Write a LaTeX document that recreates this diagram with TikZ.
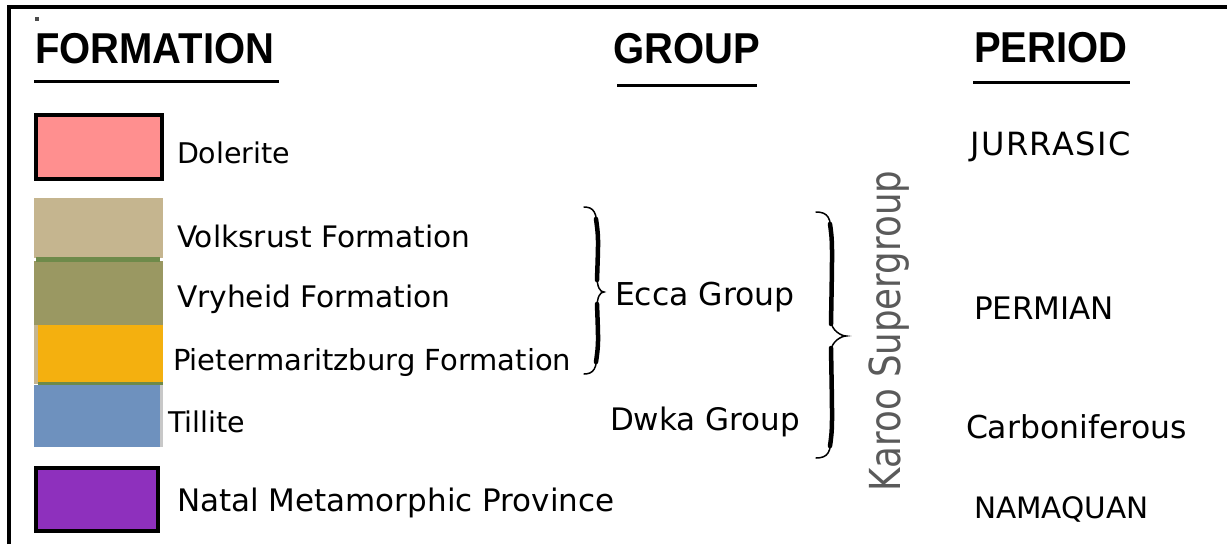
\documentclass[tikz,border=0pt]{standalone}
\usepackage{fontspec}
\usepackage{graphicx}
\setmainfont{DejaVu Sans}
\newfontfamily\headfont{Liberation Sans}
\newfontfamily\spacedfont[LetterSpace=5]{DejaVu Sans}
\definecolor{cpink}{HTML}{FF8F8F}
\definecolor{ctan}{HTML}{C5B58F}
\definecolor{colive}{HTML}{9A9862}
\definecolor{corange}{HTML}{F4B00F}
\definecolor{cblue}{HTML}{6E91BE}
\definecolor{cpurple}{HTML}{8E30BD}
\definecolor{cgreen}{HTML}{6E8A4A}
\definecolor{cgrayedge}{HTML}{C8C8C8}
\definecolor{karoogray}{HTML}{5A5A5A}
\newcommand\mybrace[7]{%
  % #1 name, #2 end x, #3 arm x, #4 tip x, #5 top y, #6 mid y, #7 bottom y
  \draw[bracethin] (#2,#5) .. controls (#3-3,#5) and (#3,#5+6) .. (#3,#5+22)
     -- (#3,#6-16) .. controls (#3,#6-5) and (#4-4,#6) .. (#4,#6)
     .. controls (#4-4,#6) and (#3,#6+5) .. (#3,#6+16)
     -- (#3,#7-22) .. controls (#3,#7-6) and (#3-3,#7) .. (#2,#7);
  \draw[bracethick] (#3-1,#5+12) .. controls (#3+1.5,#5+30) .. (#3,#6-12);
  \draw[bracethick] (#3,#6+12) .. controls (#3+1.5,#7-30) .. (#3-1,#7-12);
  \coordinate (#1) at (#4,#6);
}
\begin{document}
\begin{tikzpicture}[x=1pt,y=-1pt,
  lbl/.style={anchor=base west, inner sep=0pt, outer sep=0pt},
  fs/.style={font=\fontsize{#1}{#1}\selectfont},
  hdr/.style={anchor=base west, inner sep=0pt, outer sep=0pt,
              font=\headfont\bfseries\fontsize{40}{40}\selectfont},
  uline/.style={line width=3pt},
  framebox/.style={draw=black, line width=4pt},
  bracethin/.style={line width=1.5pt, line cap=round},
  bracethick/.style={line width=4.5pt, line cap=round}]
\useasboundingbox (0,0) rectangle (1227,544);

% frame
\draw[line width=4pt] (8.5,544) -- (8.5,6.5) -- (1227,6.5);
\fill[black!70] (35,17) rectangle (39,21);

% headers
\node[hdr] (hform) at (35,63) {\scalebox{1}[1.08]{FORMATION}};
\node[hdr] (hgroup) at (613,63) {\scalebox{1}[1.08]{GROUP}};
\node[hdr] (hperiod) at (974,62) {\scalebox{1}[1.08]{PERIOD}};
\draw[uline] (34,81.5) -- (279,81.5);
\draw[uline] (617,85.5) -- (757,85.5);
\draw[uline] (973,82.5) -- (1130,82.5);

% legend boxes
\path[framebox, fill=cpink] (36,115) rectangle (162,179);
\fill[ctan] (34,198) rectangle (163,258);
\fill[colive] (34,261) rectangle (163,325);
\fill[cgreen] (36,257) rectangle (160,262);
\fill[ctan] (34,325) rectangle (38,384);
\fill[corange] (38,325) rectangle (163,384);
\fill[cgreen] (38,382) rectangle (163,386);
\fill[cgrayedge] (160,385) rectangle (163,447);
\fill[cblue] (34,385) rectangle (160,447);
\path[framebox, fill=cpurple] (36,468) rectangle (158,531);

% formation labels
\node[lbl,fs=28.5] (dol) at (177,163) {Dolerite};
\node[lbl,fs=29.6] (vol) at (177,247) {Volksrust Formation};
\node[lbl,fs=29.7] (vry) at (177,307) {Vryheid Formation};
\node[lbl,fs=29] (pie) at (173,370) {Pietermaritzburg Formation};
\node[lbl,fs=28.5] (til) at (168,432) {Tillite};
\node[lbl,fs=31] (nat) at (177,511) {Natal Metamorphic Province};

% groups
\mybrace{eccatip}{584}{597}{604}{207}{292}{374}
\node[lbl,fs=31.5] (ecca) at (615,305) {Ecca Group};
\node[lbl,fs=31] (dwka) at (610,430) {Dwka Group};
\mybrace{karootip}{816}{831}{846}{212}{336}{458}
\node[rotate=90, text=karoogray, inner sep=0pt] (karoo) at (889,331)
  {\fontsize{35.6}{36}\selectfont\scalebox{1}[1.2]{Karoo Supergroup}};

% periods
\node[lbl,font=\spacedfont\fontsize{32}{32}\selectfont] (jur) at (970,155) {JURRASIC};
\node[lbl,fs=31] (perm) at (974,319) {PERMIAN};
\node[lbl,fs=31.5] (carb) at (966,438) {Carboniferous};
\node[lbl,fs=29.5] (nama) at (974,518) {NAMAQUAN};
\end{tikzpicture}
\end{document}
